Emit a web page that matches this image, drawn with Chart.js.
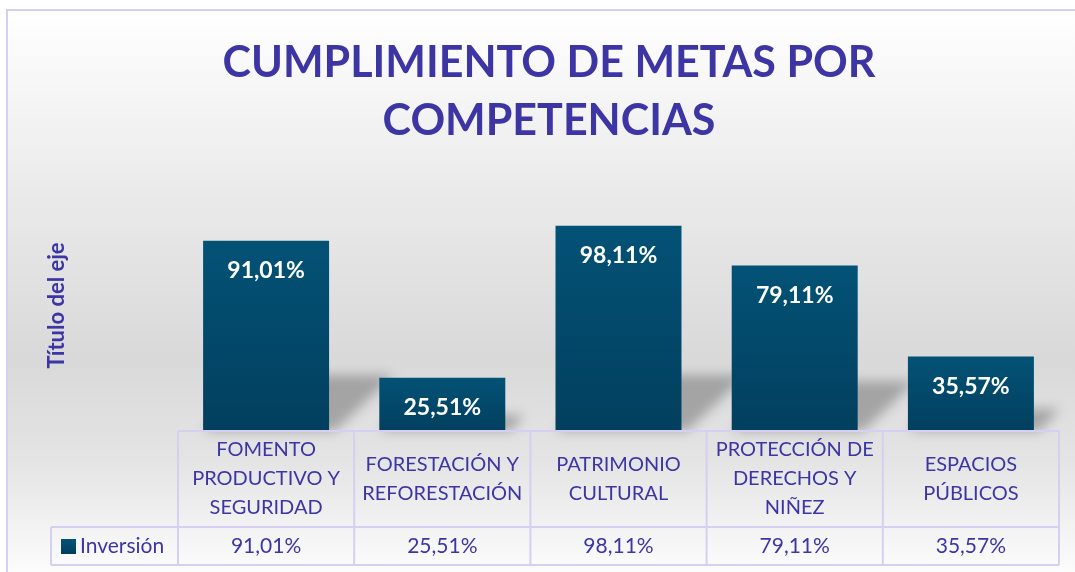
<!DOCTYPE html>
<html>
<head>
<meta charset="utf-8">
<script src="https://cdn.jsdelivr.net/npm/chart.js@4"></script>
<style>
  html, body { margin: 0; padding: 0; background: #ffffff; }
  #wrap { width: 1075px; height: 572px; }
</style>
</head>
<body>
<div id="wrap"><canvas id="c" width="1075" height="572"></canvas></div>
<script>
// ---- data ----
const chartTitle = ["CUMPLIMIENTO DE METAS POR", "COMPETENCIAS"];
const axisTitle = "Título del eje";
const seriesName = "Inversión";
const categoryLines = [
  ["FOMENTO", "PRODUCTIVO Y", "SEGURIDAD"],
  ["FORESTACIÓN Y", "REFORESTACIÓN"],
  ["PATRIMONIO", "CULTURAL"],
  ["PROTECCIÓN DE", "DERECHOS Y", "NIÑEZ"],
  ["ESPACIOS", "PÚBLICOS"]
];
const categories = categoryLines.map(l => l.join(" "));
const values = [0.9101, 0.2551, 0.9811, 0.7911, 0.3557];
const yMin = 0;
const yMax = 1.2;

// ---- style ----
const TEXT = "#3d35a4";
const GRID = "#d5cff2";
const FONT = "Lato, 'Open Sans', sans-serif";

function fmtPct(v) {
  return (v * 100).toFixed(2).replace(".", ",") + "%";
}

function barGradient(ctx, top, bottom) {
  const g = ctx.createLinearGradient(0, top, 0, bottom);
  g.addColorStop(0, "#035276");
  g.addColorStop(1, "#023f5e");
  return g;
}

const bgPlugin = {
  id: "bg",
  beforeDraw(chart) {
    const ctx = chart.ctx;
    ctx.save();
    ctx.fillStyle = "#ffffff";
    ctx.fillRect(0, 0, chart.width, chart.height);
    const g = ctx.createLinearGradient(0, 10, 0, chart.height);
    g.addColorStop(0, "#ffffff");
    g.addColorStop(0.33, "#eaeaea");
    g.addColorStop(0.62, "#d9d9d9");
    g.addColorStop(0.8, "#e4e4e4");
    g.addColorStop(1, "#fcfcfc");
    ctx.fillStyle = g;
    ctx.fillRect(7, 10, chart.width, chart.height);
    ctx.strokeStyle = GRID;
    ctx.lineWidth = 2;
    ctx.beginPath();
    ctx.moveTo(7, chart.height + 5);
    ctx.lineTo(7, 10);
    ctx.lineTo(chart.width + 5, 10);
    ctx.stroke();

    // chart title
    ctx.fillStyle = TEXT;
    ctx.font = "bold 43px " + FONT;
    ctx.textAlign = "center";
    ctx.textBaseline = "alphabetic";
    ctx.fillText(chartTitle[0], 549, 77);
    ctx.fillText(chartTitle[1], 549, 135);
    ctx.restore();
  }
};

const shadowPlugin = {
  id: "barShadow",
  beforeDatasetsDraw(chart) {
    const ctx = chart.ctx;
    const meta = chart.getDatasetMeta(0);
    ctx.save();
    ctx.filter = "blur(6px)";
    ctx.fillStyle = "rgba(0,0,0,0.26)";
    meta.data.forEach(bar => {
      const h = bar.base - bar.y;
      const sh = Math.min(h * 0.3, 56);
      const shift = sh * 1.15;
      const xl = bar.x - bar.width / 2;
      const xr = bar.x + bar.width / 2;
      ctx.beginPath();
      ctx.moveTo(xl, bar.base);
      ctx.lineTo(xr + 6, bar.base);
      ctx.lineTo(xr + shift, bar.base - sh);
      ctx.lineTo(xl + shift, bar.base - sh);
      ctx.closePath();
      ctx.fill();
    });
    ctx.restore();
  }
};

const labelPlugin = {
  id: "barLabels",
  afterDatasetsDraw(chart) {
    const ctx = chart.ctx;
    const meta = chart.getDatasetMeta(0);
    ctx.save();
    ctx.fillStyle = "#ffffff";
    ctx.font = "bold 23px " + FONT;
    ctx.textAlign = "center";
    ctx.textBaseline = "middle";
    meta.data.forEach((bar, i) => {
      ctx.fillText(fmtPct(values[i]), bar.x, bar.y + 30);
    });
    ctx.restore();
  }
};

const tablePlugin = {
  id: "dataTable",
  afterDraw(chart) {
    const ctx = chart.ctx;
    const xs = chart.scales.x;
    const area = chart.chartArea;
    const n = categories.length;
    const step = (area.right - area.left) / n;
    const top = area.bottom;
    const rowMid = top + 96;
    const bottom = rowMid + 38;
    const legendLeft = 51;

    ctx.save();
    ctx.strokeStyle = GRID;
    ctx.lineWidth = 2;
    ctx.beginPath();
    ctx.moveTo(area.left, top); ctx.lineTo(area.right, top);
    ctx.moveTo(legendLeft, rowMid); ctx.lineTo(area.right, rowMid);
    ctx.moveTo(legendLeft, bottom); ctx.lineTo(area.right, bottom);
    for (let i = 0; i < n; i++) {
      const x = xs.getPixelForValue(i) - step / 2;
      ctx.moveTo(x, top); ctx.lineTo(x, bottom);
    }
    const xEnd = xs.getPixelForValue(n - 1) + step / 2;
    ctx.moveTo(xEnd, top); ctx.lineTo(xEnd, bottom);
    ctx.moveTo(legendLeft, rowMid); ctx.lineTo(legendLeft, bottom);
    ctx.stroke();

    // category labels
    ctx.fillStyle = TEXT;
    ctx.font = "20px " + FONT;
    ctx.textAlign = "center";
    ctx.textBaseline = "middle";
    const lh = 29;
    categoryLines.forEach((lines, i) => {
      const cx = xs.getPixelForValue(i);
      const cy = (top + rowMid) / 2;
      const start = cy - (lines.length - 1) * lh / 2;
      lines.forEach((ln, j) => ctx.fillText(ln, cx, start + j * lh));
    });

    // data row
    ctx.font = "21px " + FONT;
    const dy = (rowMid + bottom) / 2;
    values.forEach((v, i) => {
      ctx.fillText(fmtPct(v), xs.getPixelForValue(i), dy);
    });

    // legend key
    ctx.fillStyle = barGradient(ctx, dy - 7, dy + 7);
    ctx.fillRect(61, dy - 7, 15, 15);
    ctx.fillStyle = TEXT;
    ctx.textAlign = "left";
    ctx.fillText(seriesName, 80, dy);
    ctx.restore();
  }
};

const chart = new Chart(document.getElementById("c"), {
  type: "bar",
  data: {
    labels: categories,
    datasets: [{
      label: seriesName,
      data: values,
      backgroundColor: (c) => {
        const ch = c.chart;
        if (!ch.chartArea || c.type !== "data") return "#034a6c";
        const y = ch.scales.y;
        return barGradient(ch.ctx, y.getPixelForValue(c.raw), y.getPixelForValue(0));
      },
      borderWidth: 0,
      categoryPercentage: 1,
      barPercentage: 0.715
    }]
  },
  plugins: [bgPlugin, shadowPlugin, labelPlugin, tablePlugin],
  options: {
    responsive: false,
    animation: false,
    devicePixelRatio: 1,
    layout: { padding: { left: 0, right: 16, top: 180, bottom: 0 } },
    plugins: {
      legend: { display: false },
      tooltip: { enabled: false },
      title: { display: false }
    },
    scales: {
      x: {
        type: "category",
        ticks: { display: false },
        grid: { display: false },
        border: { display: false },
        afterFit(scale) { scale.height = 141; }
      },
      y: {
        min: yMin,
        max: yMax,
        ticks: { display: false },
        grid: { display: false },
        border: { display: false },
        title: {
          display: true,
          text: axisTitle,
          color: TEXT,
          font: { family: FONT, size: 22, weight: "bold", lineHeight: 1.2 },
          padding: { top: 44, bottom: 0 }
        },
        afterFit(scale) { scale.width = 178; }
      }
    }
  }
});
</script>
</body>
</html>
